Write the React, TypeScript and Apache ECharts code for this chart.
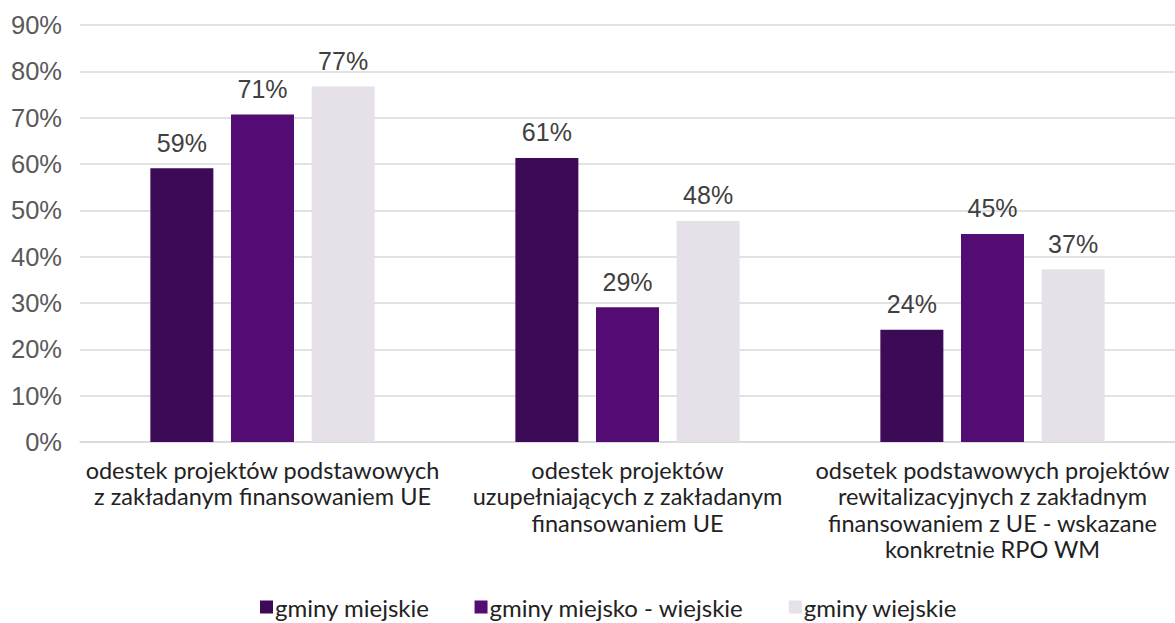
import React, { useEffect, useRef } from "react";
import * as echarts from "echarts";

const categories = [
  "odestek projektów podstawowych\nz zakładanym finansowaniem UE",
  "odestek projektów\nuzupełniających z zakładanym\nfinansowaniem UE",
  "odsetek podstawowych projektów\nrewitalizacyjnych z zakładnym\nfinansowaniem z UE - wskazane\nkonkretnie RPO WM",
];
const seriesNames = ["gminy miejskie", "gminy miejsko - wiejskie", "gminy wiejskie"];
const miejskie = [59.1, 61.3, 24.2];
const miejskoWiejskie = [70.7, 29.1, 44.9];
const wiejskie = [76.7, 47.7, 37.3];
const colors = ["#3d0a57", "#520c73", "#e6e0e8"];

export default function App() {
  const ref = useRef<HTMLDivElement>(null);
  useEffect(() => {
    if (!ref.current) return;
    const chart = echarts.init(ref.current, null, { renderer: "svg" });
    const values = [miejskie, miejskoWiejskie, wiejskie];
    chart.setOption({
      animation: false,
      grid: { left: 80, right: 0, top: 25, bottom: 181, containLabel: false },
      legend: {
        top: 590,
        left: 255,
        itemWidth: 13,
        itemHeight: 13,
        itemGap: 45,
        icon: "rect",
        textStyle: { fontFamily: "Lato", fontSize: 24, color: "#222222", padding: [0, 0, 0, -3] },
        data: seriesNames,
      },
      xAxis: {
        type: "category",
        data: categories,
        axisLine: { lineStyle: { color: "#d9d9d9", width: 1.5 } },
        axisTick: { show: false },
        axisLabel: {
          fontFamily: "Lato",
          fontSize: 23.5,
          color: "#222222",
          lineHeight: 26.3,
          margin: 15,
          interval: 0,
        },
      },
      yAxis: {
        type: "value",
        min: 0,
        max: 90,
        interval: 10,
        axisLine: { show: false },
        axisTick: { show: false },
        splitLine: { lineStyle: { color: "#d9d9d9", width: 1.5 } },
        axisLabel: {
          formatter: (v: number) => v + "%",
          fontFamily: "Liberation Sans",
          fontSize: 25.5,
          color: "#595959",
          margin: 18,
        },
      },
      series: seriesNames.map((name, i) => ({
        name,
        type: "bar",
        data: values[i],
        barWidth: 63,
        barGap: "28%",
        itemStyle: { color: colors[i] },
        label: {
          show: true,
          position: "top",
          distance: 13,
          formatter: (p: any) => Math.round(p.value) + "%",
          fontFamily: "Liberation Sans",
          fontSize: 25,
          color: "#404040",
        },
      })),
    });
    return () => chart.dispose();
  }, []);
  return (
    <div
      ref={ref}
      style={{ position: "fixed", left: 0, top: 0, width: 1175, height: 623, background: "#ffffff" }}
    />
  );
}
